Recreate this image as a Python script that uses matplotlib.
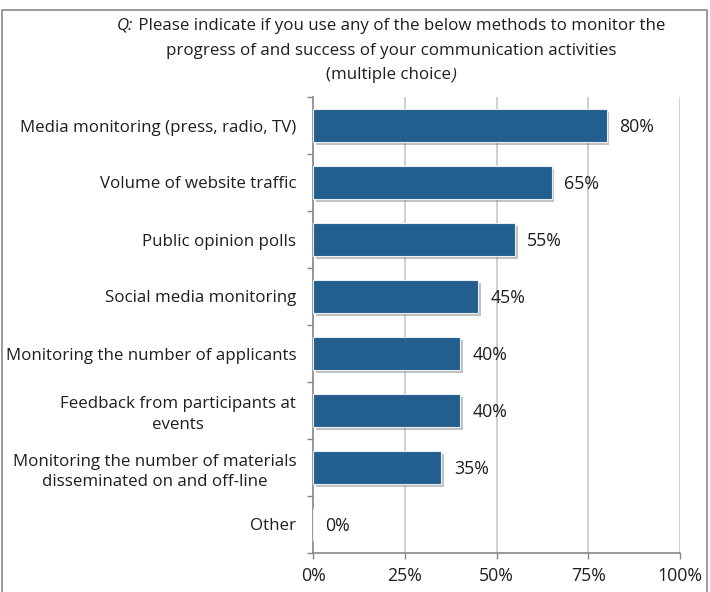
import matplotlib
matplotlib.use("Agg")
import matplotlib.pyplot as plt
import matplotlib.patheffects as pe
from matplotlib.patches import Rectangle
from matplotlib.ticker import FixedLocator

plt.rcParams['font.family'] = ['Open Sans', 'DejaVu Sans']

categories = [
    "Media monitoring (press, radio, TV)",
    "Volume of website traffic",
    "Public opinion polls",
    "Social media monitoring",
    "Monitoring the number of applicants",
    "Feedback from participants at\nevents",
    "Monitoring the number of materials\ndisseminated on and off-line",
    "Other",
]
values = [80, 65, 55, 45, 40, 40, 35, 0]
xticks = [0, 25, 50, 75, 100]
xtick_labels = ["0%", "25%", "50%", "75%", "100%"]

title_lines = [
    ("Q:", " Please indicate if you use any of the below methods to monitor the"),
    ("", "progress of and success of your communication activities"),
    ("", "(multiple choice"),
]

bar_color = "#235f8e"
fs = 12.2
fs_num = 12.8
txt = "#1e1e1e"

fig = plt.figure(figsize=(7.1, 5.92), dpi=100)
ax = fig.add_axes([313 / 710, 1 - 553 / 592, (680 - 313) / 710, (553 - 97) / 592])

n = len(categories)
ypos = list(range(n))
bars = ax.barh(ypos, values, height=0.57, color=bar_color, edgecolor="#e8eef4",
               linewidth=0.8, zorder=3)
for b in bars:
    b.set_path_effects([pe.SimplePatchShadow(offset=(2, -2), shadow_rgbFace="#777777",
                                             alpha=0.45), pe.Normal()])

for y, v in zip(ypos, values):
    ax.annotate(f"{v}%", xy=(v, y), xytext=(9, -1), textcoords="offset points",
                va="center", ha="left", fontsize=fs_num, color=txt)

ax.set_xlim(0, 100)
ax.set_ylim(n - 0.5, -0.5)
ax.set_xticks(xticks)
ax.set_xticklabels(xtick_labels, fontsize=fs_num, color=txt)
ax.set_yticks(ypos)
ax.set_yticklabels(categories, fontsize=fs, color=txt, multialignment="center",
                   linespacing=1.4)
ax.yaxis.set_minor_locator(FixedLocator([i - 0.5 for i in range(n + 1)]))
ax.tick_params(axis="y", which="major", length=0, pad=12)
ax.tick_params(axis="y", which="minor", length=4, color="#888888", width=1)
ax.tick_params(axis="x", which="major", length=4, color="#888888", width=1, pad=6)

ax.grid(axis="x", color="#c8c8c8", linewidth=1.2, zorder=0)
ax.set_axisbelow(True)
for s in ["top", "right"]:
    ax.spines[s].set_visible(False)
for s in ["left", "bottom"]:
    ax.spines[s].set_color("#888888")
    ax.spines[s].set_linewidth(1.2)

# outer frame
fig.patches.append(Rectangle((2 / 710, -0.05), 705 / 710, 1.05 - 10 / 592,
                             transform=fig.transFigure, fill=False,
                             edgecolor="#8a8a8a", linewidth=1.2))

# title, with italic question marker
fig.canvas.draw()
renderer = fig.canvas.get_renderer()
cx = 391 / 710
line_y = [26, 51, 75]
for (ital, rest), yy in zip(title_lines, line_y):
    yf = 1 - yy / 592
    if ital:
        t1 = fig.text(0, yf, ital, fontsize=fs, style="italic", va="center", ha="left",
                      color=txt)
        t2 = fig.text(0, yf, rest, fontsize=fs, va="center", ha="left", color=txt)
        w1 = t1.get_window_extent(renderer).width
        w2 = t2.get_window_extent(renderer).width
        x0 = cx * 710 - (w1 + w2) / 2
        t1.set_x(x0 / 710)
        t2.set_x((x0 + w1) / 710)
    elif rest.startswith("(multiple"):
        t1 = fig.text(0, yf, rest, fontsize=fs, va="center", ha="left", color=txt)
        t2 = fig.text(0, yf, ")", fontsize=fs, style="italic", va="center", ha="left",
                      color=txt)
        w1 = t1.get_window_extent(renderer).width
        w2 = t2.get_window_extent(renderer).width
        x0 = cx * 710 - (w1 + w2) / 2
        t1.set_x(x0 / 710)
        t2.set_x((x0 + w1) / 710)
    else:
        fig.text(cx, yf, rest, fontsize=fs, va="center", ha="center", color=txt)

fig.savefig("out.png", dpi=100)
